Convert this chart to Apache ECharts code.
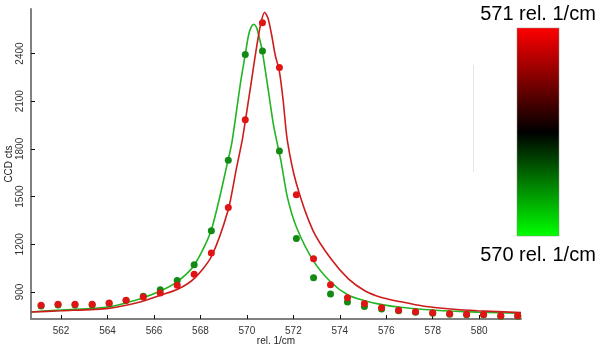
<!DOCTYPE html>
<html>
<head>
<meta charset="utf-8">
<script src="https://cdn.jsdelivr.net/npm/echarts@6/dist/echarts.min.js"></script>
<style>
html,body{margin:0;padding:0;background:#fff;}
#c{width:607px;height:348px;}
</style>
</head>
<body>
<div id="c"></div>
<script>
// ---- data ----
const xTicks = [562, 564, 566, 568, 570, 572, 574, 576, 578, 580];
const yTicks = [900, 1200, 1500, 1800, 2100, 2400];

const pointX = [561.14, 561.87, 562.60, 563.34, 564.07, 564.80, 565.54, 566.27, 567.00, 567.73,
  568.47, 569.20, 569.93, 570.67, 571.40, 572.13, 572.87, 573.60, 574.33, 575.06,
  575.80, 576.53, 577.26, 578.00, 578.73, 579.46, 580.19, 580.93, 581.66];
const redPoints = [816, 822, 822, 822, 831, 848, 868, 894, 942, 1011,
  1145, 1431, 1983, 2594, 2312, 1511, 1109, 946, 863, 827,
  800, 785, 775, 769, 763, 760, 758, 750, 750];
const greenPoints = [812, 818, 818, 818, 827, 846, 873, 914, 972, 1071,
  1285, 1729, 2394, 2416, 1787, 1236, 989, 887, 837, 808,
  793, 782, 772, 766, 760, 756, 756, 747, 747];

const greenFitX = [560.71, 562.00, 564.03, 565.41, 566.27, 567.02, 567.74, 568.46, 569.19, 569.37,
  569.72, 569.93, 570.07, 570.18, 570.30, 570.41, 570.52, 570.66, 570.89, 571.16,
  571.46, 571.74, 572.13, 572.85, 573.61, 574.37, 575.07, 575.76, 576.63, 577.63, 578.78, 579.93, 581.80];
const greenFitY = [774, 787, 806, 858, 906, 967, 1070, 1286, 1729, 1854,
  2211, 2394, 2515, 2565, 2584, 2565, 2509, 2416, 2200, 1938,
  1729, 1498, 1309, 1099, 963, 879, 845, 822, 804, 790, 780, 773, 766];

const redFitX = [560.71, 562.00, 564.03, 565.41, 566.27, 567.02, 567.74, 568.46, 569.19, 569.55,
  569.80, 569.94, 570.15, 570.33, 570.48, 570.61, 570.76, 570.91, 571.06, 571.23,
  571.39, 571.56, 571.74, 572.13, 572.84, 573.61, 574.37, 575.09, 575.76, 576.63,
  577.63, 578.78, 579.93, 581.80];
const redFitY = [774, 782, 797, 837, 879, 917, 986, 1120, 1414, 1678,
  1855, 1983, 2182, 2358, 2496, 2597, 2660, 2622, 2521, 2383,
  2295, 2106, 1854, 1582, 1288, 1110, 982, 906, 867, 838,
  810, 793, 782, 770];

const colorBarTop = '571 rel. 1/cm';
const colorBarBottom = '570 rel. 1/cm';

// ---- chart ----
const zip = (xs, ys) => xs.map((x, i) => [x, ys[i]]);
const chart = echarts.init(document.getElementById('c'), null, {renderer: 'canvas'});
const font = 'Liberation Sans, Arial, sans-serif';

chart.setOption({
  animation: false,
  backgroundColor: '#ffffff',
  grid: {left: 31, right: 86, top: 9, bottom: 29, containLabel: false, outerBoundsMode: 'none'},
  xAxis: {
    type: 'value', min: 560.706, max: 581.8,
    name: 'rel. 1/cm', nameLocation: 'middle', nameGap: 17, nameMoveOverlap: false,
    nameTextStyle: {fontFamily: font, fontSize: 10, color: '#222', verticalAlign: 'top'},
    axisLine: {lineStyle: {color: '#808080', width: 2}},
    axisTick: {show: true, inside: true, length: 4, customValues: xTicks, lineStyle: {color: '#111', width: 1}},
    axisLabel: {customValues: xTicks, margin: 7, fontFamily: font, fontSize: 10, color: '#333',
      formatter: v => String(v)},
    splitLine: {show: false}
  },
  yAxis: {
    type: 'value', min: 730, max: 2680,
    name: 'CCD cts', nameLocation: 'middle', nameGap: 17, nameRotate: 90, nameMoveOverlap: false,
    nameTextStyle: {fontFamily: font, fontSize: 10, color: '#222'},
    axisLine: {show: true, lineStyle: {color: '#808080', width: 2}},
    axisTick: {show: true, inside: true, length: 4, customValues: yTicks, lineStyle: {color: '#111', width: 1}},
    axisLabel: {customValues: yTicks, rotate: 90, margin: 6, fontFamily: font, fontSize: 10, color: '#333',
      formatter: v => String(v)},
    splitLine: {show: false}
  },
  series: [
    {type: 'line', data: zip(greenFitX, greenFitY), showSymbol: false, smooth: 0.25,
     lineStyle: {color: '#22b422', width: 1.6}, z: 2},
    {type: 'line', data: zip(redFitX, redFitY), showSymbol: false, smooth: 0.25,
     lineStyle: {color: '#cc1c1c', width: 1.6}, z: 2},
    {type: 'scatter', data: zip(pointX, greenPoints), symbolSize: 7,
     itemStyle: {color: '#138a13', opacity: 1}, z: 3},
    {type: 'scatter', data: zip(pointX, redPoints), symbolSize: 7,
     itemStyle: {color: '#e01414', opacity: 1}, z: 4}
  ],
  graphic: [
    {type: 'line', shape: {x1: 473.5, y1: 65, x2: 473.5, y2: 172}, style: {stroke: '#e6e6e6', lineWidth: 1}},
    {type: 'rect', shape: {x: 517, y: 28, width: 42, height: 208},
     style: {
       fill: new echarts.graphic.LinearGradient(0, 0, 0, 1, [
         {offset: 0, color: '#ff0000'},
         {offset: 0.5, color: '#000000'},
         {offset: 1, color: '#00ff00'}
       ]),
       stroke: '#888', lineWidth: 0.5
     }},
    {type: 'text', x: 538, y: 14,
     style: {text: colorBarTop, fontFamily: font, fontSize: 20, fill: '#000', align: 'center', verticalAlign: 'middle'}},
    {type: 'text', x: 538, y: 255,
     style: {text: colorBarBottom, fontFamily: font, fontSize: 20, fill: '#000', align: 'center', verticalAlign: 'middle'}}
  ]
});
</script>
</body>
</html>
